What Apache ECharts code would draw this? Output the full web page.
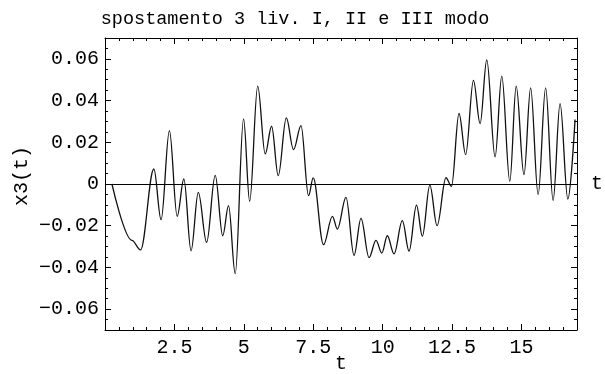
<!DOCTYPE html>
<html>
<head>
<meta charset="utf-8">
<script src="https://cdn.jsdelivr.net/npm/echarts@6/dist/echarts.min.js"></script>
<style>
  html, body { margin: 0; padding: 0; background: #fff; }
  #chart { width: 605px; height: 374px; }
</style>
</head>
<body>
<div id="chart"></div>
<script>
// Displacement of the 3rd level, modes I + II + III: turning points of x3(t)
const tValues = [
  0.25, 0.97, 1.28, 1.76, 2.02, 2.32, 2.60, 2.84, 3.10, 3.36,
  3.66, 3.97, 4.24, 4.45, 4.69, 4.99, 5.21, 5.50, 5.77, 6.00,
  6.24, 6.53, 6.79, 7.06, 7.33, 7.50, 7.87, 8.19, 8.37, 8.68,
  8.97, 9.22, 9.51, 9.76, 9.97, 10.17, 10.41, 10.71, 10.95, 11.22,
  11.43, 11.70, 11.96, 12.28, 12.48, 12.75, 12.99, 13.27, 13.51, 13.75,
  14.05, 14.29, 14.58, 14.81, 15.09, 15.33, 15.60, 15.87, 16.14, 16.39,
  16.67, 16.93
];
const x3Values = [
  0, -0.0270, -0.0316, 0.0072, -0.0171, 0.0256, -0.0155, 0.0024, -0.0320, -0.0040,
  -0.0280, 0.0041, -0.0248, -0.0104, -0.0430, 0.0312, -0.0083, 0.0469, 0.0144, 0.0277,
  0.0040, 0.0317, 0.0165, 0.0280, -0.0056, 0.0029, -0.0291, -0.0155, -0.0216, -0.0064,
  -0.0342, -0.0165, -0.0353, -0.0270, -0.0331, -0.0248, -0.0335, -0.0176, -0.0322, -0.0101,
  -0.0250, -0.0005, -0.0200, 0.0030, -0.0011, 0.0338, 0.0141, 0.0497, 0.0290, 0.0595,
  0.0130, 0.0517, 0.0013, 0.0469, 0.0045, 0.0461, -0.0051, 0.0461, -0.0079, 0.0385,
  -0.0072, 0.0309
];

// Axis ticks
const tMajorTicks = [0, 2.5, 5, 7.5, 10, 12.5, 15];
const tLabels = ['', '2.5', '5', '7.5', '10', '12.5', '15'];
const xMajorTicks = [-0.06, -0.04, -0.02, 0, 0.02, 0.04, 0.06];
const xLabels = ['\u22120.06', '\u22120.04', '\u22120.02', '0', '0.02', '0.04', '0.06'];

const titleText = 'spostamento 3 liv. I, II e III modo';
const tRange = [0, 17];
const xRange = [-0.07, 0.07];

const tMinorTicks = [];
for (let k = 1; k < 34; k++) { if (k % 5 !== 0) tMinorTicks.push(+(k * 0.5).toFixed(2)); }
const xMinorTicks = [];
for (let k = -13; k <= 13; k++) { if (k % 4 !== 0) xMinorTicks.push(+(k * 0.005).toFixed(3)); }

const FONT = 'Liberation Mono';
const FS = 20;
const INK = '#000';

function labelFor(ticks, labels) {
  return function (v) {
    const i = ticks.findIndex(function (u) { return Math.abs(u - v) < 1e-9; });
    return i >= 0 ? labels[i] : '';
  };
}
function majorAxis(position, ticks, range, extra) {
  return Object.assign({
    type: 'value', position: position, min: range[0], max: range[1],
    axisLine: { show: true, onZero: false, lineStyle: { color: INK, width: 1 } },
    axisTick: { show: true, inside: true, length: 6, customValues: ticks, lineStyle: { color: INK, width: 1 } },
    axisLabel: { show: false },
    splitLine: { show: false }
  }, extra || {});
}
function minorAxis(position, ticks, range) {
  return {
    type: 'value', position: position, min: range[0], max: range[1],
    axisLine: { show: false, onZero: false },
    axisTick: { show: true, inside: true, length: 3, customValues: ticks, lineStyle: { color: INK, width: 1 } },
    axisLabel: { show: false },
    splitLine: { show: false }
  };
}

const chart = echarts.init(document.getElementById('chart'), null, { renderer: 'canvas' });
chart.setOption({
  animation: false,
  backgroundColor: '#fff',
  grid: { left: 105, top: 38, width: 472, height: 292, containLabel: false, outerBoundsMode: 'none' },
  xAxis: [
    majorAxis('bottom', tMajorTicks, tRange, {
      axisLabel: {
        show: true, customValues: tMajorTicks, fontFamily: FONT, fontSize: FS, color: INK, margin: 8,
        formatter: labelFor(tMajorTicks, tLabels)
      }
    }),
    minorAxis('bottom', tMinorTicks, tRange),
    majorAxis('top', tMajorTicks, tRange),
    minorAxis('top', tMinorTicks, tRange)
  ],
  yAxis: [
    majorAxis('left', xMajorTicks, xRange, {
      axisLabel: {
        show: true, customValues: xMajorTicks, fontFamily: FONT, fontSize: FS, color: INK, margin: 6,
        formatter: labelFor(xMajorTicks, xLabels)
      }
    }),
    minorAxis('left', xMinorTicks, xRange),
    majorAxis('right', xMajorTicks, xRange),
    minorAxis('right', xMinorTicks, xRange)
  ],
  graphic: [
    { type: 'text', x: 295, y: 19, style: { text: titleText, font: '18.5px "' + FONT + '"', fill: INK, align: 'center', verticalAlign: 'middle' } },
    { type: 'text', x: 22, y: 176, rotation: Math.PI / 2, style: { text: 'x3(t)', font: FS + 'px "' + FONT + '"', fill: INK, align: 'center', verticalAlign: 'middle' } },
    { type: 'text', x: 341, y: 364, style: { text: 't', font: FS + 'px "' + FONT + '"', fill: INK, align: 'center', verticalAlign: 'middle' } }
  ],
  series: [{
    type: 'line',
    xAxisIndex: 0, yAxisIndex: 0,
    data: tValues.map(function (t, i) { return [t, x3Values[i]]; }),
    showSymbol: false,
    smooth: 0.36,
    smoothMonotone: 'x',
    lineStyle: { color: '#111', width: 1.3 },
    z: 3,
    markLine: {
      silent: true, symbol: ['none', 'none'],
      lineStyle: { color: INK, width: 1, type: 'solid' },
      label: { show: true, position: 'end', formatter: 't', distance: 14, fontFamily: FONT, fontSize: FS, color: INK },
      data: [{ yAxis: 0 }]
    }
  }]
});
</script>
</body>
</html>
